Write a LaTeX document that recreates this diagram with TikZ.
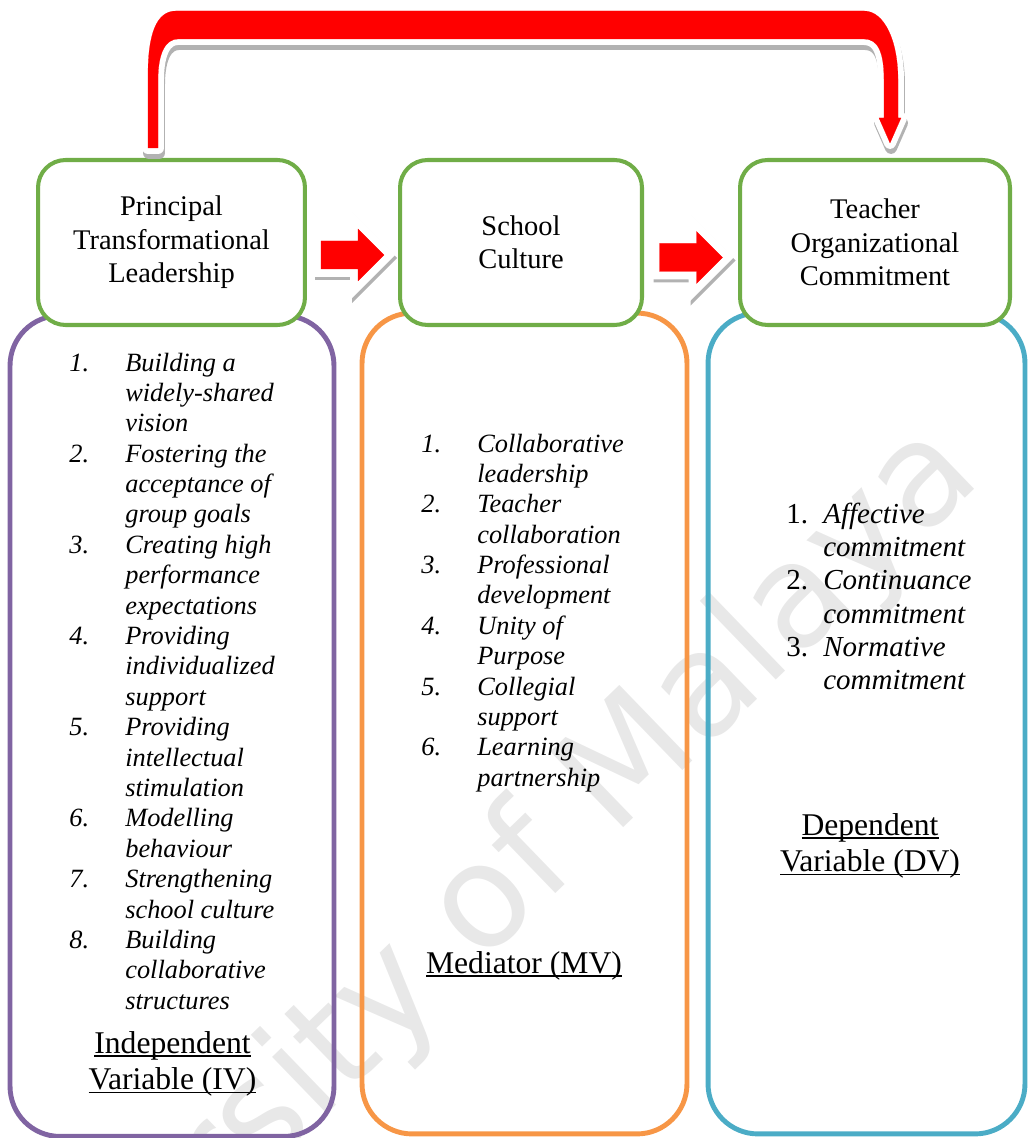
\documentclass[tikz,border=0pt]{standalone}
\usepackage{fontspec}
\setmainfont{Liberation Serif}
\newfontfamily\markfont{DejaVu Sans}
\usetikzlibrary{positioning,calc}
\definecolor{hdgreen}{RGB}{112,173,71}
\definecolor{ivpurple}{RGB}{128,100,162}
\definecolor{mvorange}{RGB}{247,150,70}
\definecolor{dvblue}{RGB}{75,172,198}
\newcommand\lblline[1]{\setbox0\hbox{#1}\rlap{\rule[-2.2pt]{\wd0}{0.9pt}}\box0}

\begin{document}
\begin{tikzpicture}[x=0.02cm, y=-0.02cm,
    header/.style={draw=hdgreen, line width=2.3pt, fill=white, rounded corners=0.55cm,
      minimum height=3.3cm, align=center, font=\fontsize{16.2}{19}\selectfont},
    frame/.style={line width=2.8pt, rounded corners=1cm, minimum height=16.42cm},
    itemlist/.style={anchor=base west, inner sep=0pt, font=\fontsize{15}{17.3}\selectfont\itshape},
    varlabel/.style={anchor=base, inner sep=0pt, font=\fontsize{18}{20.7}\selectfont}]

  \useasboundingbox (0,0) rectangle (1027,1138);

  % watermark
  \begin{scope}
    \clip (0,0) rectangle (1027,1138);
    \node[anchor=base east, rotate=44, inner sep=0pt, text=black!9,
      font=\markfont\fontsize{82}{82}\selectfont] (mark) at (984,480) {University of Malaya};
  \end{scope}

  % lower frames
  \node[frame, draw=ivpurple, minimum width=6.48cm] (ivbox) at (172,726) {};
  \node[frame, draw=mvorange, minimum width=6.5cm] (mvbox) at (524.5,723.5) {};
  \node[frame, draw=dvblue, minimum width=6.34cm] (dvbox) at (866.5,723.5) {};

  % headers
  \node[header, minimum width=5.34cm] (ptl) at (171.5,242.5) {Principal\\Transformational\\Leadership};
  \node[header, minimum width=4.84cm] (sc) at (521,242.5) {School\\Culture};
  \node[header, minimum width=5.4cm] (toc) at (875,242.5) {Teacher\\Organizational\\Commitment};

  % block arrows between the headers
  \coordinate (arrA) at ($(ptl.east)!0.5!(sc.west)+(0,12.5)$);
  \coordinate (arrB) at ($(sc.east)!0.5!(toc.west)+(0,15)$);
  \foreach \at in {arrA,arrB}
    \foreach \fc/\dx/\dy/\lw in {gray!60/2/3/9pt, white/0/0/9pt, red/0/0/0.1pt}
      \filldraw[fill=\fc, draw=\fc, line width=\lw, shift={(\at)}, shift={(\dx,\dy)}]
        (-31.5,-14) -- (5.5,-14) -- (5.5,-26) -- (31.5,0) -- (5.5,26) -- (5.5,14) -- (-31.5,14) -- cycle;

  % bent arrow over the top
  \foreach \fc/\dx/\dy/\lw in {gray!60/1/5/6.8pt, white/0/0/6.8pt, red/0/0/0.1pt}
    \filldraw[fill=\fc, draw=\fc, line width=\lw, line join=round, shift={(\dx,\dy)}]
      (148,148) -- (148,75) .. controls (148,35) and (156,11) .. (176,11)
      -- (864,11) .. controls (884,11) and (898,40) .. (898,80)
      -- (898,118) -- (901,118) -- (890,143) -- (879,118) -- (884,118)
      -- (884,80) .. controls (884,52) and (878,39) .. (864,39)
      -- (178,39) .. controls (166,39) and (158,52) .. (158,80)
      -- (158,148) -- cycle;

  % lists
  \node[itemlist] (ivlist) at (69,371) {\begin{tabular}[t]{@{}p{1.12cm}@{}l@{}}
    1. & Building a\\ & widely-shared\\ & vision\\
    2. & Fostering the\\ & acceptance of\\ & group goals\\
    3. & Creating high\\ & performance\\ & expectations\\
    4. & Providing\\ & individualized\\ & support\\
    5. & Providing\\ & intellectual\\ & stimulation\\
    6. & Modelling\\ & behaviour\\
    7. & Strengthening\\ & school culture\\
    8. & Building\\ & collaborative\\ & structures
  \end{tabular}};
  \node[itemlist] (mvlist) at (421,452) {\begin{tabular}[t]{@{}p{1.12cm}@{}l@{}}
    1. & Collaborative\\ & leadership\\
    2. & Teacher\\ & collaboration\\
    3. & Professional\\ & development\\
    4. & Unity of\\ & Purpose\\
    5. & Collegial\\ & support\\
    6. & Learning\\ & partnership
  \end{tabular}};
  \node[itemlist, font=\fontsize{16.5}{19}\selectfont\itshape] (dvlist) at (786,523) {\begin{tabular}[t]{@{}p{0.74cm}@{}l@{}}
    \upshape 1. & Affective\\ & commitment\\
    \upshape 2. & Continuance\\ & commitment\\
    \upshape 3. & Normative\\ & commitment
  \end{tabular}};

  % variable labels
  \node[varlabel] (ivlbl) at (172.5,1053) {\begin{tabular}[t]{@{}c@{}}\lblline{Independent}\\\lblline{Variable (IV)}\end{tabular}};
  \node[varlabel] (mvlbl) at (524,973) {\lblline{Mediator (MV)}};
  \node[varlabel] (dvlbl) at (870,835) {\begin{tabular}[t]{@{}c@{}}\lblline{Dependent}\\\lblline{Variable (DV)}\end{tabular}};
\end{tikzpicture}
\end{document}
